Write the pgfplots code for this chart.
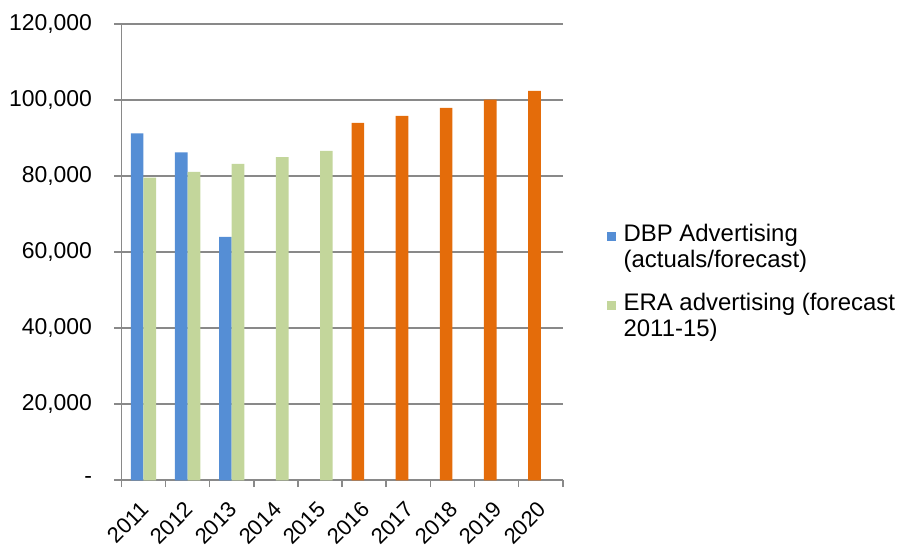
\documentclass[border=0pt]{standalone}
\usepackage{fontspec}
\setmainfont{Liberation Sans}
\usepackage{pgfplots}
\pgfplotsset{compat=1.18}
\usetikzlibrary{calc}

\definecolor{dbp}{RGB}{85,142,213}
\definecolor{era}{RGB}{195,214,155}
\definecolor{fcst}{RGB}{228,108,10}
\definecolor{gridgray}{RGB}{137,137,137}

\begin{document}
\begin{tikzpicture}
\begin{axis}[
  name=ax,
  scale only axis,
  width=442.6pt, height=457.5pt,
  xmin=-0.5, xmax=9.5,
  ymin=0, ymax=120000,
  scaled y ticks=false,
  axis x line*=bottom, axis y line*=left,
  axis line style={draw=gridgray, line width=1.6pt, -},
  tick align=outside,
  major tick length=7pt,
  tick style={draw=gridgray, line width=1.6pt},
  ymajorgrids,
  grid style={draw=gridgray, line width=1.6pt},
  ytick={0,20000,40000,60000,80000,100000,120000},
  yticklabels={{-},{20,000},{40,000},{60,000},{80,000},{100,000},{120,000}},
  yticklabel style={font=\fontsize{23}{27}\selectfont, xshift=-19pt},
  xtick={-0.5,0.5,...,9.5},
  xticklabels={},
  xticklabel style={font=\fontsize{22}{26}\selectfont, inner sep=0pt,
      xshift=1.6pt, yshift=-25.5pt, rotate=45, anchor=east},
  extra x ticks={0,1,2,3,4,5,6,7,8,9},
  extra x tick labels={2011,2012,2013,2014,2015,2016,2017,2018,2019,2020},
  extra x tick style={major tick length=0pt},
  legend style={at={(1.092,0.567)}, anchor=north west, draw=none, fill=none,
    font=\fontsize{24}{26}\selectfont,
    nodes={inner sep=0pt, align=left},
    column sep=8pt, row sep=25pt},
  legend cell align=left,
  legend image code/.code={\fill[#1] (0pt,5.5pt) rectangle (9pt,14.5pt);},
]
% DBP advertising, actuals
\addplot[ybar, bar width=12.7pt, bar shift=-6.35pt, fill=dbp, draw=none]
  coordinates {(0,91200) (1,86200) (2,64000)};
\addlegendentry{DBP Advertising\\(actuals/forecast)}
% ERA advertising forecast
\addplot[ybar, bar width=12.7pt, bar shift=6.35pt, fill=era, draw=none]
  coordinates {(0,79600) (1,81100) (2,83200) (3,85000) (4,86600)};
\addlegendentry{ERA advertising (forecast\\2011-15)}
% DBP forecast years
\addplot[ybar, bar width=12.7pt, bar shift=-6.35pt, fill=fcst, draw=none, forget plot]
  coordinates {(5,94000) (6,95800) (7,97900) (8,100100) (9,102400)};
\end{axis}
\path ($(ax.south west)+(-121.7pt,-68.5pt)$) rectangle ($(ax.south west)+(776.3pt,481.5pt)$);
\end{tikzpicture}
\end{document}
